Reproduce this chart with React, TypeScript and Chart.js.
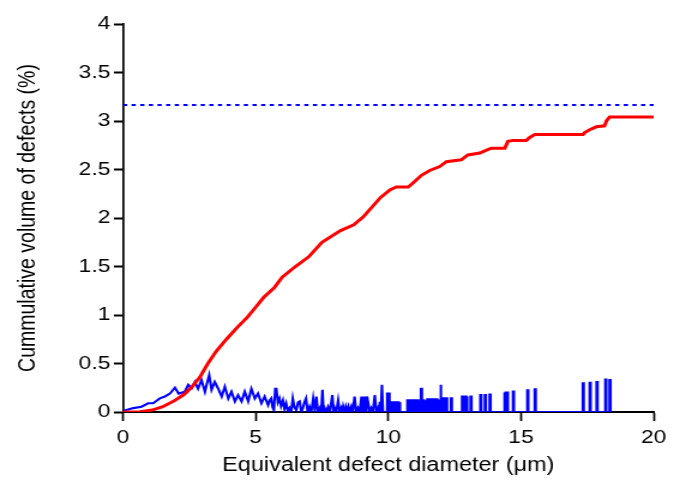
import React, { useEffect, useRef } from "react";
import { Chart, registerables } from "chart.js";

Chart.register(...registerables);

// Cumulative volume of defects (red)
const redX = [0, 0.6, 1.1, 1.5, 1.9, 2.3, 2.6, 2.9, 3.2, 3.5, 3.9, 4.3, 4.7, 5.0, 5.3, 5.7, 6.0, 6.5, 7.0, 7.5, 8.2, 8.7, 9.05, 9.7, 10.06, 10.3, 10.75, 10.93, 11.25, 11.56, 11.94, 12.19, 12.75, 13.0, 13.45, 13.7, 13.89, 14.39, 14.51, 14.7, 15.2, 15.33, 15.52, 17.34, 17.4, 17.59, 17.84, 18.15, 18.22, 18.34, 20];
const redY = [0, 0, 0.02, 0.055, 0.11, 0.18, 0.26, 0.36, 0.5, 0.62, 0.75, 0.87, 0.98, 1.08, 1.18, 1.28, 1.39, 1.5, 1.6, 1.75, 1.87, 1.93, 2.01, 2.21, 2.29, 2.32, 2.32, 2.36, 2.44, 2.49, 2.53, 2.58, 2.6, 2.65, 2.67, 2.7, 2.72, 2.72, 2.79, 2.8, 2.8, 2.83, 2.86, 2.86, 2.88, 2.91, 2.94, 2.95, 3.0, 3.04, 3.04];

// Volume per diameter (blue), continuous part
const blueX = [0, 0.39, 0.7, 0.95, 1.14, 1.39, 1.58, 1.77, 1.96, 2.1, 2.33, 2.46, 2.59, 2.71, 2.83, 2.96, 3.09, 3.17, 3.25, 3.34, 3.46, 3.59, 3.72, 3.84, 3.97, 4.09, 4.22, 4.34, 4.47, 4.59, 4.72, 4.84, 4.97, 5.09, 5.22, 5.34, 5.47,
  5.53, 5.59, 5.64, 5.69, 5.74, 5.78, 5.84, 5.9, 5.96, 6.03, 6.09, 6.15, 6.22, 6.28, 6.34, 6.4, 6.46, 6.53, 6.6, 6.66, 6.72, 6.78, 6.84, 6.9, 6.96, 7.03, 7.1, 7.17, 7.23, 7.29, 7.35, 7.42, 7.47, 7.52, 7.56, 7.6, 7.66, 7.73, 7.8, 7.89, 7.94, 7.98, 8.04, 8.11, 8.17, 8.23, 8.27, 8.3, 8.35, 8.4, 8.45, 8.5, 8.55, 8.61, 8.66, 8.73, 8.79, 8.86, 8.92, 8.99, 9.03, 9.06, 9.1, 9.13, 9.17, 9.2, 9.24, 9.3, 9.36, 9.42, 9.49, 9.55, 9.61, 9.65, 9.68, 9.72, 9.76, 9.8];
const blueY = [0.01, 0.04, 0.055, 0.09, 0.09, 0.14, 0.16, 0.19, 0.25, 0.19, 0.21, 0.28, 0.245, 0.31, 0.24, 0.33, 0.21, 0.3, 0.38, 0.23, 0.31, 0.24, 0.16, 0.26, 0.14, 0.21, 0.11, 0.175, 0.11, 0.21, 0.11, 0.24, 0.14, 0.19, 0.09, 0.16, 0.07,
  0.12, 0.14, 0.05, 0.02, 0.24, 0.24, 0.1, 0.14, 0.06, 0.12, 0.03, 0.09, 0.01, 0.04, 0.0, 0.14, 0.05, 0.02, 0.1, 0.11, 0.0, 0.04, 0.1, 0.14, 0.0, 0.055, 0.0, 0.14, 0.02, 0.16, 0.0, 0.04, 0.0, 0.23, 0.0, 0.04, 0.0, 0.055, 0.0, 0.175, 0.0, 0.04, 0.0, 0.12, 0.0, 0.04, 0.0, 0.055, 0.0, 0.055, 0.0, 0.055, 0.0, 0.055, 0.0, 0.16, 0.0, 0.04, 0.0, 0.16, 0.0, 0.16, 0.0, 0.16, 0.0, 0.16, 0.16, 0.0, 0.04, 0.0, 0.175, 0.0, 0.04, 0.0, 0.106, 0.0, 0.28, 0.0];

// Blue isolated spikes beyond ~10 μm (position, height)
const spikeX = [9.96, 10.01, 10.12, 10.18, 10.24, 10.3, 10.36, 10.42, 10.72, 10.78, 10.84, 10.9, 10.97, 11.03, 11.09, 11.15, 11.23, 11.31, 11.37, 11.47, 11.53, 11.62, 11.68, 11.81, 11.87, 11.96, 12.06, 12.12, 12.18, 12.36, 12.78, 12.84, 12.9, 12.95, 13.1, 13.47, 13.64, 13.82, 14.36, 14.42, 14.47, 14.7, 15.24, 15.52, 17.33, 17.59, 17.85, 18.18, 18.34];
const spikeH = [0.19, 0.19, 0.1, 0.1, 0.1, 0.1, 0.1, 0.1, 0.12, 0.12, 0.12, 0.12, 0.12, 0.12, 0.12, 0.12, 0.24, 0.12, 0.12, 0.13, 0.13, 0.13, 0.13, 0.13, 0.13, 0.28, 0.14, 0.14, 0.14, 0.14, 0.16, 0.16, 0.16, 0.16, 0.16, 0.175, 0.175, 0.18, 0.2, 0.2, 0.2, 0.21, 0.225, 0.235, 0.295, 0.3, 0.31, 0.335, 0.33];

// Dotted reference level
const refLevel = 3.165;
const xRange = [0, 20];

export default function App() {
  const ref = useRef<HTMLCanvasElement | null>(null);

  useEffect(() => {
    if (!ref.current) return;
    const font = "'Liberation Sans', Arial, Helvetica, sans-serif";
    const spikeW = 0.035;
    const redPts = redX.map((x, i) => ({ x, y: redY[i] }));
    const bluePts: { x: number; y: number }[] = blueX.map((x, i) => ({ x, y: blueY[i] }));
    spikeX.forEach((s, i) => {
      const h = spikeH[i];
      bluePts.push({ x: s, y: 0 }, { x: s, y: h }, { x: s + spikeW, y: h }, { x: s + spikeW, y: 0 });
    });
    const refPts = xRange.map((x) => ({ x, y: refLevel }));

    const chart = new Chart(ref.current, {
      type: "scatter",
      data: {
        datasets: [
          {
            data: redPts,
            showLine: true,
            borderColor: "#ff0000",
            borderWidth: 3,
            pointRadius: 0,
            tension: 0,
          },
          {
            data: bluePts,
            showLine: true,
            borderColor: "#0000ff",
            borderWidth: 2.1,
            pointRadius: 0,
            tension: 0,
          },
          {
            data: refPts,
            showLine: true,
            borderColor: "#0000ff",
            borderWidth: 2,
            borderDash: [3.5, 3.7],
            pointRadius: 0,
          },
        ],
      },
      options: {
        responsive: false,
        animation: false,
        events: [],
        layout: { padding: { left: 0, right: 27, top: 24, bottom: 0 } },
        plugins: { legend: { display: false }, tooltip: { enabled: false } },
        scales: {
          x: {
            type: "linear",
            min: 0,
            max: 20,
            afterFit: (s: any) => {
              s.height = 76;
            },
            ticks: {
              stepSize: 5,
              color: "#000",
              padding: 5,
              font: { family: font, size: 19 },
            },
            grid: {
              display: true,
              drawOnChartArea: false,
              drawTicks: true,
              tickLength: 9,
              tickWidth: 1.7,
              tickColor: "#000",
            },
            border: { display: true, color: "#000", width: 2 },
            title: {
              display: true,
              text: "Equivalent defect diameter (μm)",
              color: "#000",
              font: { family: font, size: 19.5 },
              padding: { top: 0, bottom: 11 },
            },
          },
          y: {
            type: "linear",
            min: 0,
            max: 4,
            afterFit: (s: any) => {
              s.width = 102.5;
            },
            ticks: {
              stepSize: 0.5,
              color: "#000",
              padding: 3,
              font: { family: font, size: 19 },
              callback: (v: any) => String(Number(v)),
            },
            grid: {
              display: true,
              drawOnChartArea: false,
              drawTicks: true,
              tickLength: 7.5,
              tickWidth: 2,
              tickColor: "#000",
            },
            border: { display: true, color: "#000", width: 1.7 },
            title: {
              display: true,
              text: "Cummulative volume of defects (%)",
              color: "#000",
              font: { family: font, size: 19.5 },
              padding: { top: 11.6, bottom: 0 },
            },
          },
        },
      },
    });
    return () => chart.destroy();
  }, []);

  return (
    <div style={{ position: "fixed", left: 0, top: 0, width: 686, height: 488, background: "#fff" }}>
      <canvas ref={ref} width={572} height={488} style={{ display: "block", width: "686px", height: "488px" }} />
    </div>
  );
}
